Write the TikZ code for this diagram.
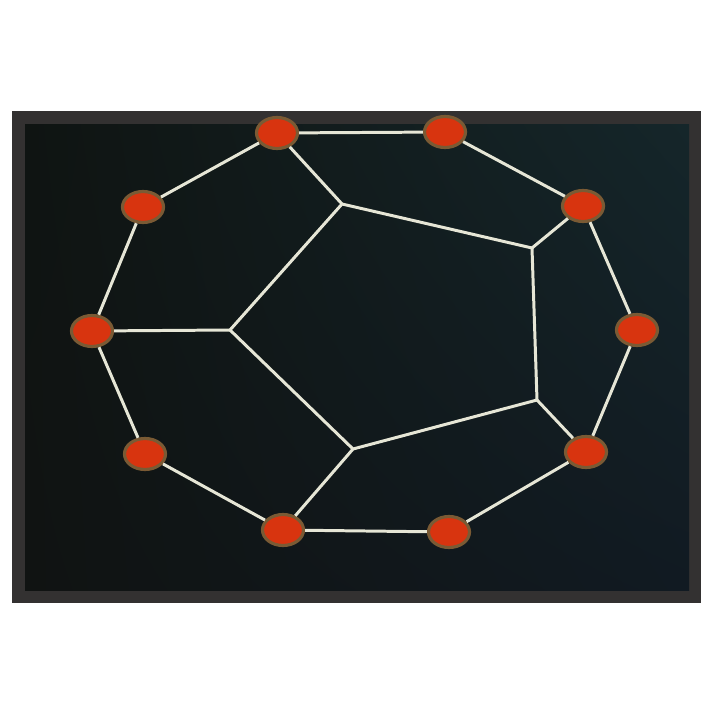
\documentclass[tikz,border=0pt]{standalone}
\usepackage{tikz}
\usetikzlibrary{shapes.geometric}
\usetikzlibrary{shadings}
\definecolor{framegray}{HTML}{333131}
\definecolor{boardul}{HTML}{0F1412}
\definecolor{boardur}{HTML}{15262A}
\definecolor{boardll}{HTML}{101312}
\definecolor{boardlr}{HTML}{111A22}
\definecolor{stick}{HTML}{E6E6D6}
\definecolor{bead}{HTML}{D8340F}
\definecolor{beadrim}{HTML}{7A5A34}
\newcommand{\pxu}{*0.02cm}
\tikzset{
  ball/.style={ellipse, fill=bead, draw=beadrim, line width=1.8pt,
               minimum width=41\pxu, minimum height=31\pxu, inner sep=0pt},
  rod/.style={stick, line width=1.7pt}
}
\begin{document}
\begin{tikzpicture}[x=0.02cm, y=-0.02cm]
    \useasboundingbox (0,0) rectangle (713,713);
    \fill[white] (0,0) rectangle (713,713);
    %frame and board
    \fill[framegray] (12,111) rectangle (701,603);
    \shade[upper left=boardul, upper right=boardur, lower left=boardll, lower right=boardlr]
        (25,124) rectangle (689,590);
    %inner pentagon corners
    \coordinate (pa) at (342,204);
    \coordinate (pb) at (532,248);
    \coordinate (pc) at (537,400);
    \coordinate (pd) at (353,449);
    \coordinate (pe) at (230,330);
    %outer ring
    \node[ball] (r1) at (277,133) {};
    \node[ball] (r2) at (445,132) {};
    \node[ball] (r3) at (583,206) {};
    \node[ball] (r4) at (637,330) {};
    \node[ball] (r5) at (586,452) {};
    \node[ball] (r6) at (449,532) {};
    \node[ball] (r7) at (283,530) {};
    \node[ball] (r8) at (145,454) {};
    \node[ball] (r9) at (92,331) {};
    \node[ball] (r10) at (143,207) {};
    \foreach \i/\j in {1/2, 2/3, 3/4, 4/5, 5/6, 6/7, 7/8, 8/9, 9/10, 10/1} {
        \draw[rod] (r\i) -- (r\j);}
    \draw[rod, line join=bevel] (pa) -- (pb) -- (pc) -- (pd) -- (pe) -- cycle;
    \foreach \r/\p in {1/a, 3/b, 5/c, 7/d, 9/e} {
        \draw[rod] (r\r) -- (p\p);}
\end{tikzpicture}
\end{document}
